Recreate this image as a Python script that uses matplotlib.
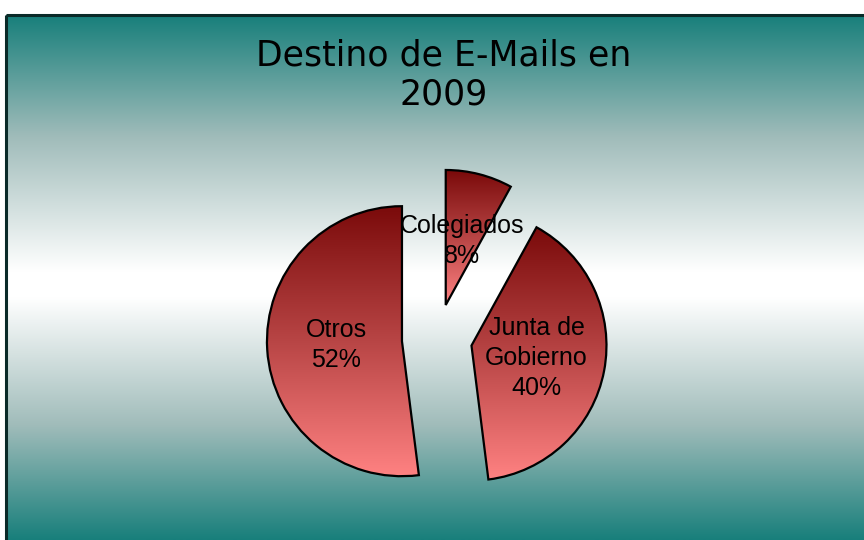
import numpy as np
import matplotlib
matplotlib.use("Agg")
import matplotlib.pyplot as plt
from matplotlib.colors import LinearSegmentedColormap

# ---- data ----
categories = ["Otros", "Junta de\nGobierno", "Colegiados"]
values = [52, 40, 8]
title = "Destino de E-Mails en\n2009"

W, H = 864, 540
fig = plt.figure(figsize=(W / 100, H / 100), dpi=100)
fig.patch.set_facecolor("white")

# ---- background panel (teal -> white -> teal gradient) ----
left_px, top_px = 6, 15
bg = fig.add_axes([left_px / W, 0, 1 - left_px / W, 1 - top_px / H])
bg.set_axis_off()
teal = np.array([0x18, 0x7f, 0x7b]) / 255.0
grey = np.array([0xa0, 0xbc, 0xba]) / 255.0
white = np.array([1.0, 1.0, 1.0])
n = 512
ys = np.linspace(0, 1, n)  # 0 = top
mid = (285 - top_px) / (H - top_px)
t = np.where(ys < mid, ys / mid, (1 - ys) / (1 - mid))
t = np.clip(t, 0, 1)
c1 = teal[None, :] + (grey - teal)[None, :] * np.clip(t / 0.45, 0, 1)[:, None]
c2 = grey[None, :] + (white - grey)[None, :] * np.clip((t - 0.45) / 0.5, 0, 1)[:, None]
grad = np.where((t < 0.45)[:, None], c1, c2)
bg.imshow(grad[:, None, :], aspect="auto", extent=[0, 1, 0, 1], interpolation="bilinear")
bg.set_xlim(0, 1)
bg.set_ylim(0, 1)
bg.plot([0, 0], [0, 1], color="#0a2a28", lw=2.2, solid_capstyle="butt", clip_on=False)
bg.plot([0, 1], [1, 1], color="#0a2a28", lw=2.2, solid_capstyle="butt", clip_on=False)

# ---- pie ----
R_px = 135.0
cx_px, cy_px = 437.0, 339.0
ax = fig.add_axes([0, 0, 1, 1])
ax.set_axis_off()

explode = [0.26, 0.26, 0.26]
wedges, texts, autotexts = ax.pie(
    values, explode=explode, startangle=90, counterclock=True,
    autopct=lambda p: f"{p:.0f}%", pctdistance=0.49, labeldistance=None,
    wedgeprops=dict(edgecolor="black", linewidth=1.6),
    textprops=dict(fontsize=18, family="Liberation Sans", color="black"),
    radius=1.0,
)

cmap = LinearSegmentedColormap.from_list("redgrad", ["#7a0a0a", "#b84545", "#ff8282"])
vgrad = np.linspace(0, 1, 256)[:, None]
for w in wedges:
    w.set_facecolor("none")
    verts = w.get_patch_transform().transform(w.get_path().vertices)
    x0, y0 = verts.min(axis=0)
    x1, y1 = verts.max(axis=0)
    im = ax.imshow(vgrad, cmap=cmap, aspect="auto", extent=[x0, x1, y0, y1],
                   origin="upper", zorder=0.5, interpolation="bilinear")
    im.set_clip_path(w)
    w.set_zorder(1)

for cat, at in zip(categories, autotexts):
    at.set_text(f"{cat}\n{at.get_text()}")
    at.set_linespacing(1.32)
    at.set_zorder(3)

ax.set_xlim(-cx_px / R_px, (W - cx_px) / R_px)
ax.set_ylim(-(H - cy_px) / R_px, cy_px / R_px)
ax.set_aspect("equal")

# ---- title ----
fig.text(444 / W, 1 - 75 / H, title, ha="center", va="center",
         fontsize=25, family="DejaVu Sans", color="black", linespacing=1.15)

fig.savefig("out.png", dpi=100)
